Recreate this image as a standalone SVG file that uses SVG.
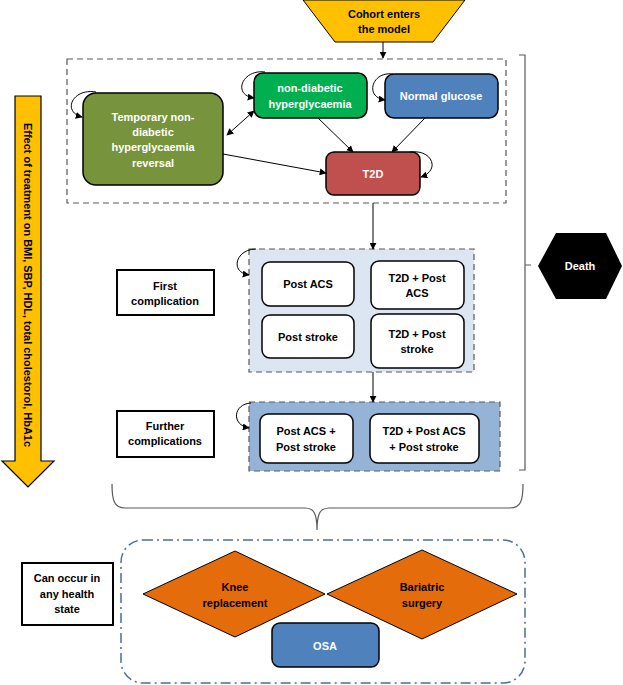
<svg xmlns="http://www.w3.org/2000/svg" width="623" height="685" viewBox="0 0 623 685">
<defs>
<marker id="ah" viewBox="0 0 10 10" refX="9" refY="5" markerWidth="7" markerHeight="7" orient="auto-start-reverse" markerUnits="userSpaceOnUse"><path d="M0,0 L10,5 L0,10 z" fill="#000"/></marker>
<style>
text{font-family:"Liberation Sans",Arial,sans-serif;font-weight:bold;font-size:11px;text-anchor:middle}
.w{fill:#fff}
.k{fill:#000}
.node{stroke:#000;stroke-width:1.5}
.wb{fill:#fff;stroke:#000;stroke-width:1.5}
.lab{fill:#fff;stroke:#000;stroke-width:2}
.c{fill:none;stroke:#000;stroke-width:1}
.br{fill:none;stroke:#595959;stroke-width:1.2}
</style>
</defs>
<rect width="623" height="685" fill="#fff"/>

<g id="containers">
<rect x="67" y="59" width="439" height="144" fill="none" stroke="#595959" stroke-width="1.2" stroke-dasharray="6 4"/>
<rect x="249" y="249" width="225" height="123" fill="#DCE6F2" stroke="#595959" stroke-width="1.2" stroke-dasharray="6 4"/>
<rect x="249" y="402" width="251" height="69" fill="#95B3D7" stroke="#595959" stroke-width="1.2" stroke-dasharray="6 4"/>
<rect x="121" y="540" width="404" height="143" rx="22" fill="none" stroke="#4A6E9C" stroke-width="1.5" stroke-dasharray="10 4 2 4"/>
</g>

<g id="treatment-arrow">
<path d="M15,96 L41,96 L41,461 L54,461 L28,487 L2,461 L15,461 Z" fill="#FFC000" stroke="#000" stroke-width="1.2"/>
<text class="k" x="0" y="0" transform="translate(24,285) rotate(90)" textLength="324" lengthAdjust="spacingAndGlyphs" font-size="10.5">Effect of treatment on BMI, SBP, HDL, total cholestorol, HbA1c</text>
</g>

<g id="cohort">
<path d="M303,0 L465,0 L433,42 L335,42 Z" fill="#FFC000" stroke="#000" stroke-width="1"/>
<text class="k" x="384" y="18">Cohort enters</text>
<text class="k" x="384" y="33">the model</text>
</g>

<g id="temp-reversal">
<rect class="node" x="83" y="93" width="140" height="92" rx="13" fill="#77933C"/>
<text class="w" x="153" y="121">Temporary non-</text>
<text class="w" x="153" y="136">diabetic</text>
<text class="w" x="153" y="151">hyperglycaemia</text>
<text class="w" x="153" y="167">reversal</text>
</g>

<g id="ndh">
<rect class="node" x="254" y="73" width="113" height="45" rx="9" fill="#00B050"/>
<text class="w" x="310" y="92">non-diabetic</text>
<text class="w" x="310" y="108">hyperglycaemia</text>
</g>

<g id="normal">
<rect class="node" x="385" y="74" width="113" height="44" rx="9" fill="#4F81BD"/>
<text class="w" x="441" y="100">Normal glucose</text>
</g>

<g id="t2d">
<rect class="node" x="326" y="152" width="94" height="43" rx="8" fill="#C0504D"/>
<text class="w" x="373" y="178">T2D</text>
</g>

<g id="first-label">
<rect class="lab" x="117" y="270" width="97" height="45"/>
<text class="k" x="165" y="290">First</text>
<text class="k" x="165" y="305">complication</text>
</g>

<g id="post-acs">
<rect class="wb" x="262" y="262" width="92" height="44" rx="8"/>
<text class="k" x="308" y="288">Post ACS</text>
</g>
<g id="t2d-post-acs">
<rect class="wb" x="371" y="261" width="93" height="48" rx="8"/>
<text class="k" x="417" y="282">T2D + Post</text>
<text class="k" x="417" y="297">ACS</text>
</g>
<g id="post-stroke">
<rect class="wb" x="262" y="315" width="92" height="43" rx="8"/>
<text class="k" x="308" y="341">Post stroke</text>
</g>
<g id="t2d-post-stroke">
<rect class="wb" x="371" y="314" width="93" height="54" rx="8"/>
<text class="k" x="417" y="338">T2D + Post</text>
<text class="k" x="417" y="353">stroke</text>
</g>

<g id="further-label">
<rect class="lab" x="117" y="411" width="97" height="46"/>
<text class="k" x="165" y="430">Further</text>
<text class="k" x="165" y="445">complications</text>
</g>

<g id="post-acs-stroke">
<rect class="wb" x="260" y="414" width="93" height="49" rx="8"/>
<text class="k" x="306" y="435">Post ACS +</text>
<text class="k" x="306" y="451">Post stroke</text>
</g>
<g id="t2d-post-acs-stroke">
<rect class="wb" x="370" y="414" width="109" height="49" rx="8"/>
<text class="k" x="424" y="435">T2D + Post ACS</text>
<text class="k" x="424" y="451">+ Post stroke</text>
</g>

<g id="death">
<path d="M538,266 L556,233 L606,233 L622,266 L606,299 L556,299 Z" fill="#000"/>
<text class="w" x="580" y="270">Death</text>
</g>

<g id="any-label">
<rect class="lab" x="22" y="563" width="91" height="62"/>
<text class="k" x="67" y="582">Can occur in</text>
<text class="k" x="67" y="598">any health</text>
<text class="k" x="67" y="613">state</text>
</g>

<g id="knee">
<path d="M143,594 L235,551 L325,594 L235,637 Z" fill="#E46C0A" stroke="#000" stroke-width="1"/>
<text class="k" x="235" y="591">Knee</text>
<text class="k" x="235" y="607">replacement</text>
</g>

<g id="bariatric">
<path d="M327,594 L422,550 L517,594 L422,639 Z" fill="#E46C0A" stroke="#000" stroke-width="1"/>
<text class="k" x="422" y="591">Bariatric</text>
<text class="k" x="422" y="607">surgery</text>
</g>

<g id="osa">
<rect class="node" x="272" y="623" width="107" height="44" rx="8" fill="#4F81BD"/>
<text class="w" x="325" y="650">OSA</text>
</g>

<g id="connectors">
<path class="c" d="M383,42 L383,58" marker-end="url(#ah)"/>
<path class="c" d="M318,118 L353,152" marker-end="url(#ah)"/>
<path class="c" d="M425,118 L392,152" marker-end="url(#ah)"/>
<path class="c" d="M223,154 L326,173" marker-end="url(#ah)"/>
<path class="c" d="M227,135 L254,111" marker-start="url(#ah)" marker-end="url(#ah)"/>
<path class="c" d="M96,92 C72,88 62,112 82,117" marker-end="url(#ah)"/>
<path class="c" d="M265,72 C242,69 232,95 254,98" marker-end="url(#ah)"/>
<path class="c" d="M393,74 C372,71 364,97 385,100" marker-end="url(#ah)"/>
<path class="c" d="M410,152 C432,149 441,170 421,177" marker-end="url(#ah)"/>
<path class="c" d="M373,203 L373,249" marker-end="url(#ah)"/>
<path class="c" d="M373,372 L373,402" marker-end="url(#ah)"/>
<path class="c" d="M256,249 C236,249 229,272 249,275" marker-end="url(#ah)"/>
<path class="c" d="M251,403 C233,404 231,425 249,428" marker-end="url(#ah)"/>
<path class="br" d="M519,55 L525,55 L525,470 L519,470 M525,265 L531,265"/>
<path class="br" d="M112,484 C112,500 114,508 125,508 L305,508 C313,508 317,512 317,530 C317,512 321,508 329,508 L510,508 C521,508 523,500 523,484"/>
</g>
</svg>
